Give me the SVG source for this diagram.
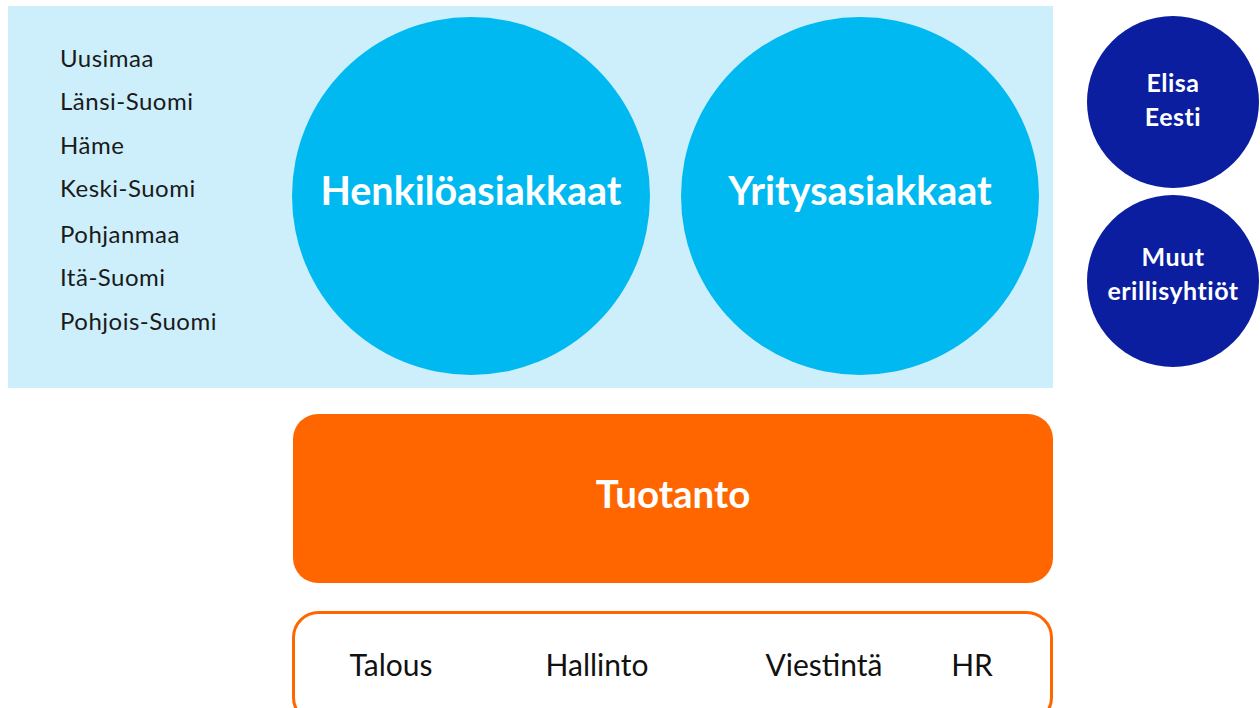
<svg xmlns="http://www.w3.org/2000/svg" width="1260" height="708" viewBox="0 0 1260 708">
<style>
.list{font-family:Lato,"Liberation Sans",sans-serif;font-size:24px;letter-spacing:0.5px;fill:#1a1a1a}
.big{font-family:Lato,"Liberation Sans",sans-serif;font-weight:bold;fill:#fff;text-anchor:middle}
.sm{font-family:Lato,"Liberation Sans",sans-serif;font-weight:bold;font-size:25px;letter-spacing:0.5px;fill:#fff;text-anchor:middle}
.sup{font-family:Lato,"Liberation Sans",sans-serif;font-size:30px;fill:#111;text-anchor:middle}
.lb{fill:#00b9f0}
.db{fill:#0a1e9f}
</style>
<rect width="1260" height="708" fill="#fff"/>
<g id="regions">
<rect x="8" y="6" width="1045" height="382" fill="#cdeffb"/>
<text class="list" x="60" y="67">Uusimaa</text>
<text class="list" x="60" y="110">Länsi-Suomi</text>
<text class="list" x="60" y="154">Häme</text>
<text class="list" x="60" y="197">Keski-Suomi</text>
<text class="list" x="60" y="243">Pohjanmaa</text>
<text class="list" x="60" y="286">Itä-Suomi</text>
<text class="list" x="60" y="330">Pohjois-Suomi</text>
</g>
<g id="henkilo">
<circle class="lb" cx="471" cy="196" r="179"/>
<text class="big" x="471" y="205" font-size="39.5">Henkilöasiakkaat</text>
</g>
<g id="yritys">
<circle class="lb" cx="860" cy="196" r="179"/>
<text class="big" x="860" y="205" font-size="39.5">Yritysasiakkaat</text>
</g>
<g id="eesti">
<circle class="db" cx="1173" cy="102" r="86"/>
<text class="sm" x="1173" y="92">Elisa</text>
<text class="sm" x="1173" y="126">Eesti</text>
</g>
<g id="muut">
<circle class="db" cx="1173" cy="281" r="86"/>
<text class="sm" x="1173" y="266">Muut</text>
<text class="sm" x="1173" y="300">erillisyhtiöt</text>
</g>
<g id="tuotanto">
<rect x="293" y="414" width="760" height="169" rx="25" fill="#ff6600"/>
<text class="big" x="673" y="508" font-size="38.5">Tuotanto</text>
</g>
<g id="tuki">
<rect x="293.5" y="612.5" width="758" height="110" rx="25" fill="#fff" stroke="#ff6600" stroke-width="3"/>
<text class="sup" x="391" y="676">Talous</text>
<text class="sup" x="597" y="676">Hallinto</text>
<text class="sup" x="824" y="676">Viestintä</text>
<text class="sup" x="972" y="676">HR</text>
</g>
<g id="connectors"/>
</svg>
